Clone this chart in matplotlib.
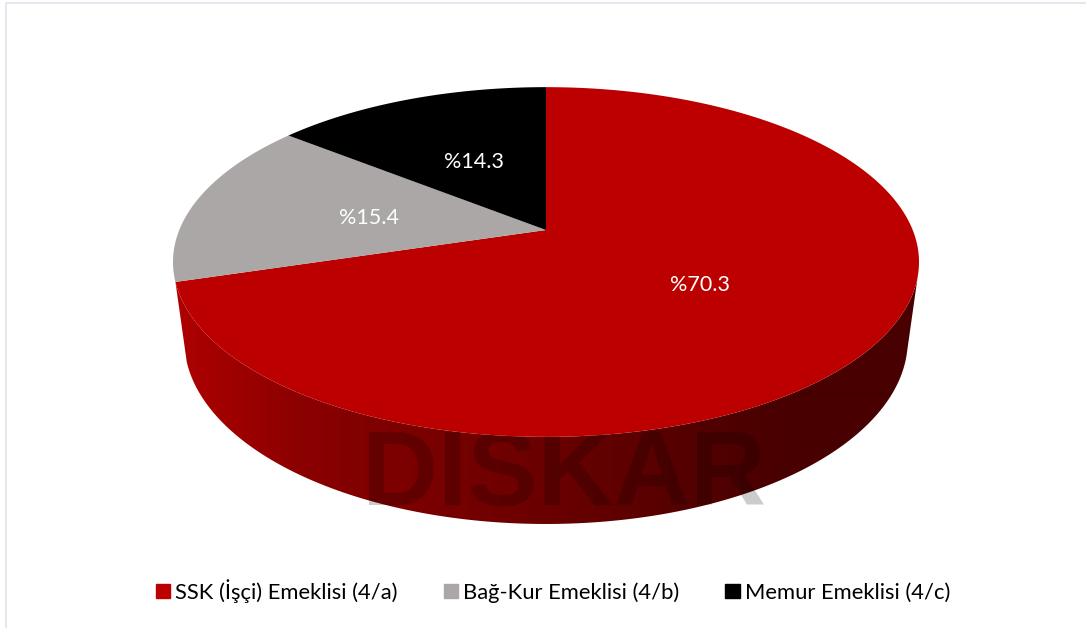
import numpy as np
import matplotlib
matplotlib.use('Agg')
import matplotlib.pyplot as plt
from matplotlib.patches import Patch, Polygon

plt.rcParams['font.family'] = ['Lato', 'DejaVu Sans']

labels = ['SSK (İşçi) Emeklisi (4/a)', 'Bağ-Kur Emeklisi (4/b)', 'Memur Emeklisi (4/c)']
shares = [70.3, 15.4, 14.3]
colors = ['#BC0000', '#ABA7A6', '#000000']
value_text = ['%70.3', '%15.4', '%14.3']

# side shading, screen x -> red level
shade_x = [175, 300, 370, 550, 700, 800, 918]
shade_r = [175, 140, 128, 106, 82, 72, 72]


# tilted disc: angle clockwise from the top of the pie -> pixel position
def project(angle, drop=0.0):
    u = np.sin(angle)
    v = np.cos(angle)
    w = 1 + 0.183 * v + 0.03 * drop
    return 546 + 366.7 * u / w, 230 + (80 * drop - 169 * v) / w


fig = plt.figure(figsize=(10.86, 6.28), dpi=100)
ax = fig.add_axes([0, 0, 1, 1])
ax.axis('off')

edges = np.cumsum([0] + shares) / 100 * 2 * np.pi

# side wall of the big slice, from the right silhouette round to the slice edge
t = np.linspace(np.radians(105), edges[1], 400)
x1, y1 = project(t)
x2, y2 = project(t, 1)
wall = Polygon(np.c_[np.r_[x1, x2[::-1]], np.r_[y1, y2[::-1]]], closed=True, transform=ax.transData)
xs = np.arange(170, 925)
reds = np.interp(xs, shade_x, shade_r) / 255
grad = np.zeros((1, len(xs), 3))
grad[0, :, 0] = reds
im = ax.imshow(grad, extent=[170, 925, 540, 80], aspect='auto', interpolation='bilinear', zorder=2)
im.set_clip_path(wall)

ax.set_xlim(0, 1086)
ax.set_ylim(628, 0)

ax.text(564, 478, 'DİSKAR', family=['Liberation Sans', 'DejaVu Sans'],
        weight='bold', fontsize=76, color='black', alpha=0.2,
        ha='center', va='center', zorder=3)

for i in range(3):
    t = np.linspace(edges[i], edges[i + 1], 300)
    x, y = project(t)
    ax.fill(np.r_[546, x], np.r_[230, y], color=colors[i], lw=0, zorder=4)

for s, px, py in zip(value_text, [700, 369, 474], [285, 218, 162]):
    ax.text(px, py, s, color='white', fontsize=15.5, ha='center', va='center', zorder=5)

# faint frame of the pasted chart
ax.plot([6, 6, 1086], [628, 3, 3], color='#E4E8EE', lw=1.5, zorder=1)

handles = [Patch(color=c) for c in colors]
fig.legend(handles, labels, loc='center', bbox_to_anchor=(553 / 1086, 1 - 591 / 628), ncol=3,
           frameon=False, fontsize=15.85, handlelength=0.64, handleheight=0.64,
           handletextpad=0.23, columnspacing=2.1)

fig.savefig('out.png', dpi=100)
